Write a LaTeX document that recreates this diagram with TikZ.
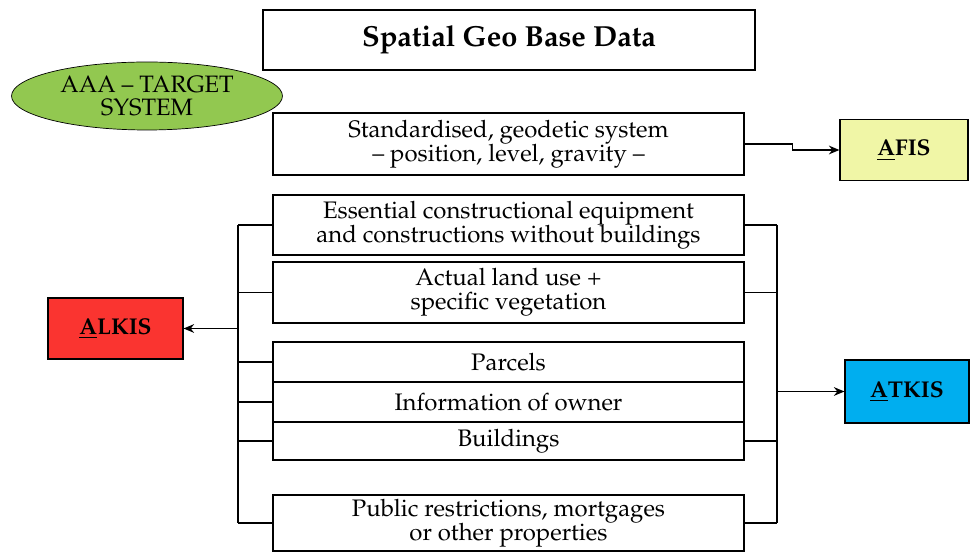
\documentclass[tikz,border=0pt]{standalone}
\usepackage{amsmath}
\usepackage[T1]{fontenc}
\usepackage{mathpazo}
\usepackage{xcolor}
\usepackage{tikz}
\usetikzlibrary{shapes.geometric, arrows.meta, positioning}

\definecolor{targetgreen}{RGB}{146,200,80}
\definecolor{afisyellow}{RGB}{240,246,166}
\definecolor{alkisred}{RGB}{250,52,48}
\definecolor{atkisblue}{RGB}{0,174,239}

\begin{document}
\begin{tikzpicture}[
            x=0.02cm, y=-0.02cm,
            box/.style={rectangle, draw, line width=0.7pt, minimum width=9.42cm, minimum height=1.2cm, align=center, inner sep=1pt, font=\fontsize{13.6}{13.8}\selectfont},
            sysbox/.style={rectangle, draw, line width=0.7pt, minimum height=1.22cm, font=\fontsize{13}{15}\selectfont\bfseries},
            arrow/.style={->, line width=0.7pt, >={Stealth[length=6pt,width=5pt]}},
            link/.style={line width=0.7pt}
        ]
        \useasboundingbox (0,0) rectangle (970,553);

        % Title
        \node[box, minimum width=9.84cm, font=\fontsize{16.5}{18}\selectfont\bfseries] (title) at (509,40) {Spatial Geo Base Data};

        % AAA target system
        \node[ellipse, draw, fill=targetgreen, minimum width=5.42cm, minimum height=1.36cm, align=center, inner sep=0pt, font=\fontsize{13.5}{13.6}\selectfont] (aaa) at (147,96) {AAA -- TARGET\\SYSTEM};

        % Geodetic reference
        \node[box, minimum height=1.24cm] (geodetic) at (508.5,144) {Standardised, geodetic system\\-- position, level, gravity --};

        % Topographic / cadastral contents
        \node[box] (equipment) at (508.5,225) {Essential constructional equipment\\and constructions without buildings};
        \node[box, minimum height=1.22cm] (landuse) at (508.5,292.5) {Actual land use +\\specific vegetation};
        \node[box, minimum height=0.8cm] (parcels) at (508.5,362) {Parcels};
        \node[box, minimum height=0.8cm] (owner) at (508.5,402) {Information of owner};
        \node[box, minimum height=0.76cm] (buildings) at (508.5,441) {Buildings};
        \node[box, minimum height=1.12cm] (public) at (508.5,523) {Public restrictions, mortgages\\or other properties};

        % Target systems
        \node[sysbox, fill=afisyellow, minimum width=2.56cm] (afis) at (904,150) {\underline{A}FIS};
        \node[sysbox, fill=alkisred, minimum width=2.7cm] (alkis) at (115.5,328.5) {\underline{A}LKIS};
        \node[sysbox, fill=atkisblue, minimum width=2.48cm, minimum height=1.26cm] (atkis) at (907,391.5) {\underline{A}TKIS};

        % Bus lines
        \coordinate (lbus) at (238,0);
        \coordinate (rbus) at (777,0);

        % Conexiones
        \draw[arrow] (geodetic.east) -- ++(48,0) |- (afis.west);

        \draw[link] (equipment.west -| lbus) -- (public.west -| lbus);
        \foreach \n in {equipment, landuse, parcels, owner, buildings, public}
            \draw[link] (\n.west) -- (\n.west -| lbus);
        \draw[arrow] (alkis.east -| lbus) -- (alkis.east);

        \draw[link] (equipment.east -| rbus) -- (public.east -| rbus);
        \foreach \n in {equipment, landuse, buildings, public}
            \draw[link] (\n.east) -- (\n.east -| rbus);
        \draw[arrow] (atkis.west -| rbus) -- (atkis.west);

    \end{tikzpicture}
\end{document}
